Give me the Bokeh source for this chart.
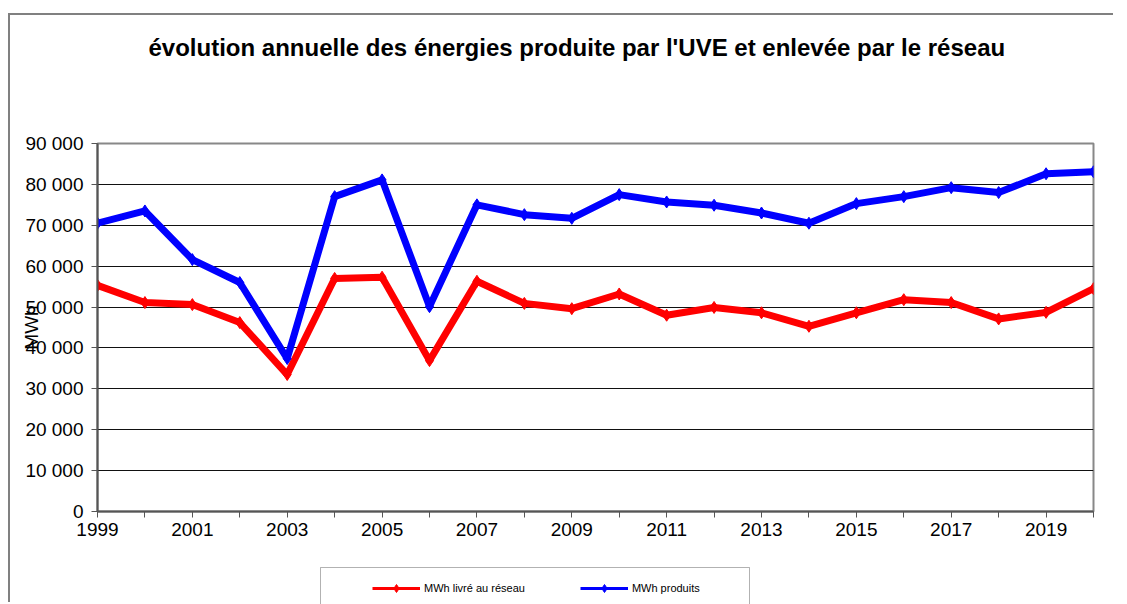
from bokeh.plotting import figure
from bokeh.layouts import column
from bokeh.models import (ColumnDataSource, FixedTicker, Legend, LegendItem, Range1d,
                          LinearAxis, BoxAnnotation)
from bokeh.embed import file_html
from bokeh.resources import INLINE

years = list(range(1999, 2021))
mwh_livre = [55300, 51100, 50600, 46200, 33500, 57000, 57300, 36900, 56300, 50900,
             49600, 53200, 48000, 49900, 48600, 45300, 48600, 51800, 51100, 47100,
             48700, 54500]
mwh_produits = [70500, 73500, 61600, 56000, 37400, 77000, 81100, 50100, 75000, 72600,
                71700, 77500, 75700, 74900, 73000, 70500, 75300, 77000, 79200, 78000,
                82600, 83100]
y_ticks = [0, 10000, 20000, 30000, 40000, 50000, 60000, 70000, 80000, 90000]
y_tick_labels = ["0", "10 000", "20 000", "30 000", "40 000", "50 000",
                 "60 000", "70 000", "80 000", "90 000"]
series_names = ["MWh livré au réseau", "MWh produits"]
title_text = "évolution annuelle des énergies produite par l'UVE et enlevée par le réseau"

FONT = "Liberation Sans"

OX, OY = 10, 15          # where the layout sits inside the outer chart frame
W, H1, H2 = 1105, 550, 39
FL, FR, FT, FB = 97, 1093, 143, 511   # plot area edges on the page

# ---------------- main chart ----------------
p = figure(width=W, height=H1, output_backend="svg", toolbar_location=None,
           x_range=Range1d(1999, 2020), y_range=Range1d(0, 90000),
           min_border_left=FL - OX, min_border_right=W - (FR - OX),
           min_border_top=FT - OY, min_border_bottom=H1 - (FB - OY))

p.title.text = title_text
p.title.text_font = FONT
p.title.text_font_size = "24px"
p.title.text_font_style = "bold"
p.title.text_color = "black"
p.title.align = "left"
p.title.offset = 148 - FL
p.title.standoff = 10

# blank spacer between the title and the plot area
spacer = LinearAxis(ticker=FixedTicker(ticks=[years[0]]), axis_line_color=None,
                    major_tick_line_color=None, minor_tick_line_color=None,
                    major_tick_in=0, major_tick_out=78, minor_tick_in=0, minor_tick_out=0,
                    major_label_standoff=0, major_label_text_font_size="1px",
                    major_label_overrides={years[0]: ""})
p.add_layout(spacer, "above")

src = ColumnDataSource(dict(x=years, livre=mwh_livre, prod=mwh_produits))
p.line("x", "livre", source=src, line_color="#FF0000", line_width=7)
p.scatter("x", "livre", source=src, marker="diamond", size=12, color="#FF0000")
p.line("x", "prod", source=src, line_color="#0000FF", line_width=7)
p.scatter("x", "prod", source=src, marker="diamond", size=12, color="#0000FF")

xax = p.below[0]
yax = p.left[0]
xax.ticker = FixedTicker(ticks=years)
xax.major_label_overrides = {y: (str(y) if y % 2 == 1 else "") for y in years}
yax.ticker = FixedTicker(ticks=y_ticks)
yax.major_label_overrides = dict(zip(y_ticks, y_tick_labels))
for ax in (xax, yax):
    ax.axis_line_color = "#555555"
    ax.axis_line_width = 2
    ax.major_tick_line_color = "#555555"
    ax.major_tick_line_width = 1
    ax.major_tick_in = 0
    ax.major_tick_out = 6
    ax.minor_tick_line_color = None
    ax.major_label_text_font = FONT
    ax.major_label_text_font_size = "19px"
    ax.major_label_text_color = "black"
yax.major_label_standoff = 8
xax.major_label_standoff = 5

yax.axis_label = "MWh"
yax.axis_label_text_font = FONT
yax.axis_label_text_font_size = "19px"
yax.axis_label_text_font_style = "normal"
yax.axis_label_text_color = "black"
yax.axis_label_standoff = -20

p.xgrid.grid_line_color = None
p.ygrid.ticker = FixedTicker(ticks=y_ticks)
p.ygrid.grid_line_color = "#111111"
p.ygrid.grid_line_width = 1

p.outline_line_color = "#888888"
p.outline_line_width = 2
p.background_fill_color = "white"
p.border_fill_color = "white"

# ---------------- legend strip ----------------
box_left, box_right, box_top = 320, 749, 567
q = figure(width=W, height=H2, output_backend="svg", toolbar_location=None,
           x_axis_type=None, y_axis_type=None,
           x_range=Range1d(0, 1), y_range=Range1d(0, 1),
           min_border_left=0, min_border_right=0, min_border_top=0, min_border_bottom=0)
q.outline_line_color = None
q.background_fill_color = "white"
q.border_fill_color = "white"

strip_bottom = OY + H1 + H2          # page y of the strip's bottom edge
q.add_layout(BoxAnnotation(left=box_left - FL, right=box_right - FL,
                           top=strip_bottom - box_top, bottom=-5,
                           left_units="screen", right_units="screen",
                           top_units="screen", bottom_units="screen",
                           fill_alpha=0, line_color="black", line_width=1))

lsrc = ColumnDataSource(dict(x=years, livre=mwh_livre, prod=mwh_produits))
lr1 = q.line("x", "livre", source=lsrc, line_color="#FF0000", line_width=3)
lm1 = q.scatter("x", "livre", source=lsrc, marker="diamond", size=5, color="#FF0000")
lr2 = q.line("x", "prod", source=lsrc, line_color="#0000FF", line_width=3)
lm2 = q.scatter("x", "prod", source=lsrc, marker="diamond", size=5, color="#0000FF")

legend = Legend(items=[LegendItem(label=series_names[0], renderers=[lr1, lm1]),
                       LegendItem(label=series_names[1], renderers=[lr2, lm2])],
                orientation="horizontal",
                location=(372 - FL, strip_bottom - 588 - 10),
                margin=0, padding=0, spacing=55, glyph_width=48, glyph_height=20,
                label_standoff=4, label_height=20,
                label_text_font=FONT, label_text_font_size="11px",
                label_text_color="black",
                border_line_color=None, background_fill_alpha=0)
q.add_layout(legend, "center")

layout = column(p, q, spacing=0)
layout.styles = {"position": "relative", "left": f"{OX}px", "top": f"{OY}px",
                 "box-shadow": "-2px -2px 0 0 #808080"}

open("out.html", "w").write(file_html(layout, INLINE))
